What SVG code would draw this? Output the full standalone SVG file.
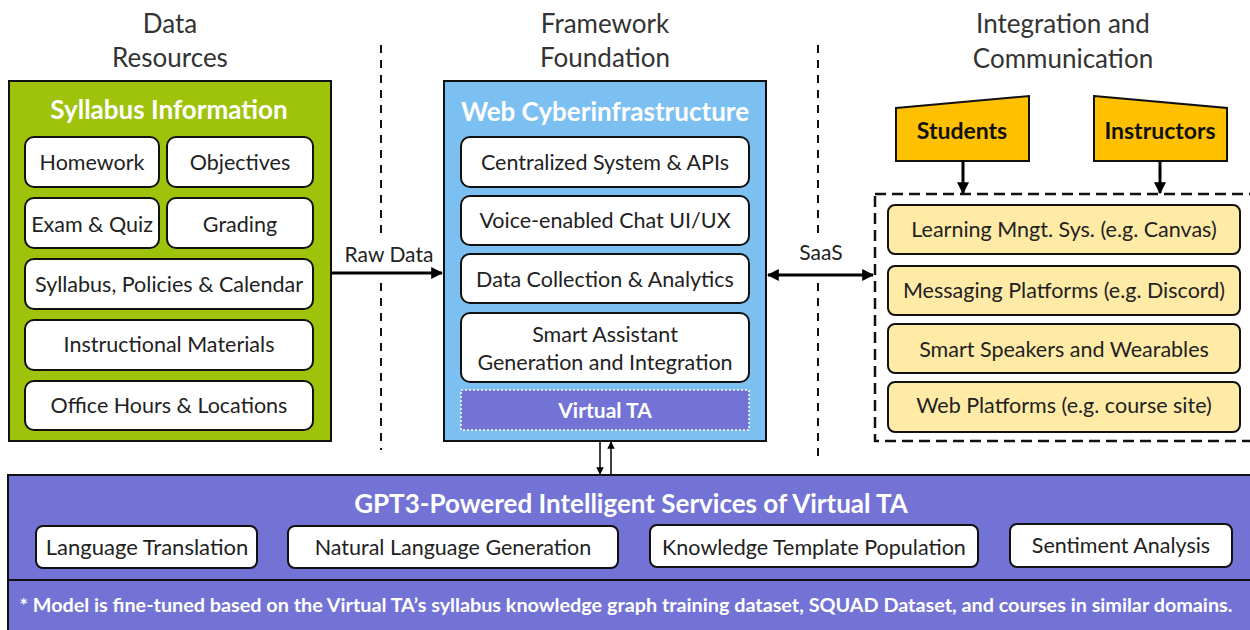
<svg xmlns="http://www.w3.org/2000/svg" width="1250" height="630" viewBox="0 0 1250 630">
<defs>
<style>
text{font-family:Lato,"Liberation Sans",sans-serif;fill:#222;text-anchor:middle}
.hdr{font-size:26px;fill:#333}
.t{font-size:21.5px}
.ttl{font-size:26px;font-weight:bold;fill:#fff}
.wb{fill:#fff;stroke:#111;stroke-width:2}
.yb{fill:#ffeaa6;stroke:#111;stroke-width:2}
.sep{stroke:#111;stroke-width:2;stroke-dasharray:8 7;fill:none}
.con{stroke:#000;stroke-width:3;fill:none}
.thin{stroke:#000;stroke-width:1.5;fill:none}
.act{font-size:23px;font-weight:bold;fill:#111}
</style>
<marker id="ah" viewBox="0 0 10 10" refX="9" refY="5" markerWidth="4" markerHeight="4" orient="auto-start-reverse"><path d="M0,0 L10,5 L0,10 z" fill="#000"/></marker>
<marker id="ahs" viewBox="0 0 10 10" refX="9" refY="5" markerWidth="5" markerHeight="5" orient="auto-start-reverse"><path d="M0,0 L10,5 L0,10 z" fill="#000"/></marker>
</defs>

<g id="headers">
<text class="hdr" x="170" y="33">Data</text>
<text class="hdr" x="170" y="67">Resources</text>
<text class="hdr" x="605" y="33">Framework</text>
<text class="hdr" x="605" y="67">Foundation</text>
<text class="hdr" x="1063" y="33">Integration and</text>
<text class="hdr" x="1063" y="68">Communication</text>
</g>

<g id="separators">
<path class="sep" d="M381,45 V233 M381,283 V450"/>
<path class="sep" d="M818,45 V233 M818,283 V458"/>
</g>

<g id="syllabus">
<rect x="9" y="81" width="322" height="360" fill="#9ec30a" stroke="#111" stroke-width="2"/>
<text class="ttl" x="169" y="119">Syllabus Information</text>
<rect class="wb" x="25" y="137" width="134" height="50" rx="9"/>
<text class="t" x="92" y="170">Homework</text>
<rect class="wb" x="167" y="137" width="146" height="50" rx="9"/>
<text class="t" x="240" y="170">Objectives</text>
<rect class="wb" x="25" y="198" width="134" height="50" rx="9"/>
<text class="t" x="92" y="232">Exam &amp; Quiz</text>
<rect class="wb" x="167" y="198" width="146" height="50" rx="9"/>
<text class="t" x="240" y="232">Grading</text>
<rect class="wb" x="25" y="259" width="288" height="50" rx="9"/>
<text class="t" x="169" y="292">Syllabus, Policies &amp; Calendar</text>
<rect class="wb" x="25" y="320" width="288" height="50" rx="9"/>
<text class="t" x="169" y="352">Instructional Materials</text>
<rect class="wb" x="25" y="381" width="288" height="49" rx="9"/>
<text class="t" x="169" y="413">Office Hours &amp; Locations</text>
</g>

<g id="web">
<rect x="444" y="81" width="322" height="360" fill="#7cc0f2" stroke="#111" stroke-width="2"/>
<text class="ttl" x="605" y="121">Web Cyberinfrastructure</text>
<rect class="wb" x="461" y="137" width="288" height="50" rx="9"/>
<text class="t" x="605" y="170">Centralized System &amp; APIs</text>
<rect class="wb" x="461" y="196" width="288" height="49" rx="9"/>
<text class="t" x="605" y="228">Voice-enabled Chat UI/UX</text>
<rect class="wb" x="461" y="254" width="288" height="49" rx="9"/>
<text class="t" x="605" y="287">Data Collection &amp; Analytics</text>
<rect class="wb" x="461" y="313" width="288" height="69" rx="9"/>
<text class="t" x="605" y="342">Smart Assistant</text>
<text class="t" x="605" y="370">Generation and Integration</text>
<g id="virtual-ta">
<rect x="461" y="390" width="288" height="40" fill="#7373d5" stroke="#fff" stroke-width="1.5" stroke-dasharray="2 2"/>
<text x="605" y="418" style="font-size:21px;font-weight:bold;fill:#fff">Virtual TA</text>
</g>
</g>

<g id="students">
<path d="M896,108 L1029,96 L1029,161 L896,161 Z" fill="#ffc000" stroke="#111" stroke-width="2"/>
<text class="act" x="962" y="139">Students</text>
</g>
<g id="instructors">
<path d="M1094,96 L1227,108 L1227,161 L1094,161 Z" fill="#ffc000" stroke="#111" stroke-width="2"/>
<text class="act" x="1160" y="139">Instructors</text>
</g>

<g id="platforms">
<rect x="875" y="194" width="380" height="247" fill="none" stroke="#111" stroke-width="2.5" stroke-dasharray="11 6"/>
<rect class="yb" x="888" y="205" width="352" height="49" rx="7"/>
<text class="t" x="1064" y="237">Learning Mngt. Sys. (e.g. Canvas)</text>
<rect class="yb" x="888" y="266" width="352" height="49" rx="7"/>
<text class="t" x="1064" y="298">Messaging Platforms (e.g. Discord)</text>
<rect class="yb" x="888" y="324" width="352" height="49" rx="7"/>
<text class="t" x="1064" y="357">Smart Speakers and Wearables</text>
<rect class="yb" x="888" y="382" width="352" height="50" rx="7"/>
<text class="t" x="1064" y="413">Web Platforms (e.g. course site)</text>
</g>

<g id="gpt3">
<rect x="8" y="475" width="1250" height="160" fill="#7373d5" stroke="#111" stroke-width="2"/>
<line x1="8" y1="580" x2="1250" y2="580" stroke="#111" stroke-width="2"/>
<text class="ttl" x="631" y="513">GPT3-Powered Intelligent Services of Virtual TA</text>
<rect class="wb" x="36" y="526" width="221" height="42" rx="7"/>
<text class="t" x="147" y="555" style="font-size:22px">Language Translation</text>
<rect class="wb" x="288" y="526" width="330" height="42" rx="7"/>
<text class="t" x="453" y="555">Natural Language Generation</text>
<rect class="wb" x="650" y="525" width="328" height="42" rx="7"/>
<text class="t" x="814" y="555">Knowledge Template Population</text>
<rect class="wb" x="1010" y="524" width="222" height="43" rx="7"/>
<text class="t" x="1121" y="553">Sentiment Analysis</text>
<text x="626" y="612" style="font-size:19.8px;font-weight:bold;fill:#fff">* Model is fine-tuned based on the Virtual TA’s syllabus knowledge graph training dataset, SQUAD Dataset, and courses in similar domains.</text>
</g>

<g id="connectors">
<line class="con" x1="331" y1="273" x2="442" y2="273" marker-end="url(#ah)"/>
<text class="t" x="389" y="262" style="font-size:21px">Raw Data</text>
<line class="con" x1="768" y1="275" x2="873" y2="275" marker-start="url(#ah)" marker-end="url(#ah)"/>
<text class="t" x="821" y="260" style="font-size:21px">SaaS</text>
<line class="con" x1="963" y1="161" x2="963" y2="193" marker-end="url(#ah)"/>
<line class="con" x1="1160" y1="161" x2="1160" y2="193" marker-end="url(#ah)"/>
<line class="thin" x1="600" y1="441" x2="600" y2="474" marker-end="url(#ahs)"/>
<line class="thin" x1="611" y1="474" x2="611" y2="442" marker-end="url(#ahs)"/>
</g>
</svg>
